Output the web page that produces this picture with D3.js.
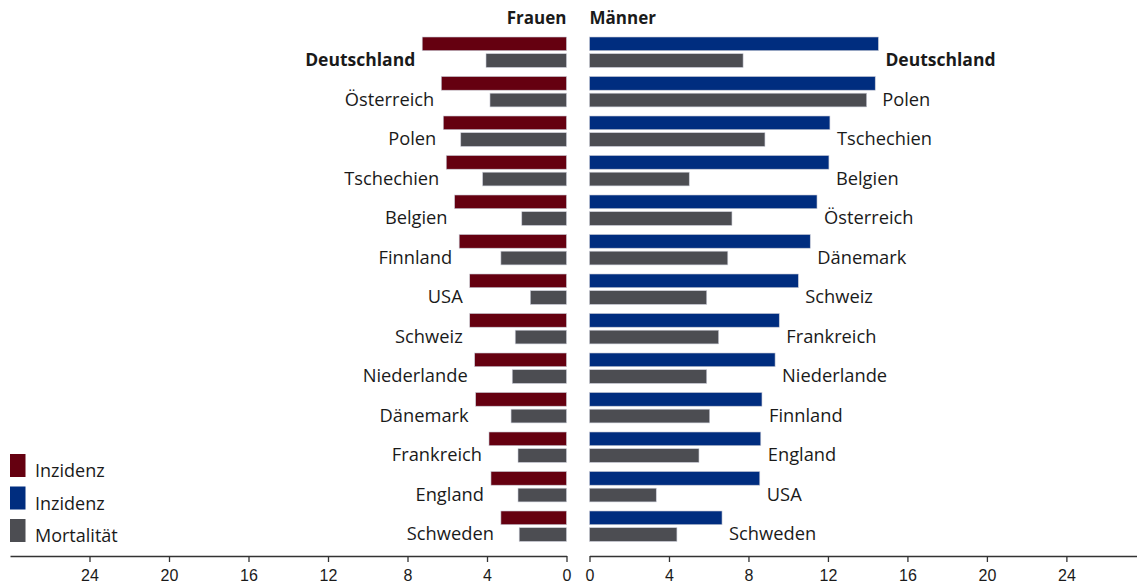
<!DOCTYPE html>
<html><head><meta charset="utf-8">
<script src="https://cdn.jsdelivr.net/npm/d3@7"></script>
<style>
body{margin:0;background:#fff;}
svg{display:block;}
text{font-family:"Open Sans","Noto Sans",sans-serif;fill:#1a1a1a;}
.axis text{font-family:"Liberation Sans",sans-serif;font-size:16px;fill:#1a1a1a;}
.axis path,.axis line{stroke:#333;stroke-width:1.3;}
</style></head>
<body>
<svg id="c" width="1137" height="585"></svg>
<script>
// Frauen (women), sorted by incidence
const womenCountries = ["Deutschland","Österreich","Polen","Tschechien","Belgien","Finnland","USA","Schweiz","Niederlande","Dänemark","Frankreich","England","Schweden"];
const womenIncidence = [7.26,6.30,6.20,6.05,5.63,5.40,4.87,4.87,4.62,4.57,3.90,3.80,3.30];
const womenMortality = [4.05,3.85,5.32,4.22,2.25,3.30,1.82,2.58,2.73,2.79,2.44,2.44,2.38];
// Männer (men), sorted by incidence
const menCountries = ["Deutschland","Polen","Tschechien","Belgien","Österreich","Dänemark","Schweiz","Frankreich","Niederlande","Finnland","England","USA","Schweden"];
const menIncidence = [14.54,14.38,12.10,12.05,11.45,11.11,10.51,9.55,9.34,8.68,8.62,8.57,6.67];
const menMortality = [7.73,13.95,8.83,5.02,7.17,6.96,5.90,6.50,5.90,6.05,5.51,3.36,4.40];
const tickValues = [0,4,8,12,16,20,24];
const legendLabels = ["Inzidenz","Inzidenz","Mortalität"];
const titles = ["Frauen","Männer"];

const colWomen = "#650010", colMen = "#002d7f", colMort = "#4c4d52";
const svg = d3.select("#c");

const xL = d3.scaleLinear().domain([0,28]).range([566.5, 10]);
const xR = d3.scaleLinear().domain([0,28]).range([589.5, 589.5+28*19.87]);
const y = d3.scaleBand().domain(d3.range(13)).range([37, 37+13*39.5]).paddingInner(0).paddingOuter(0);
const barH = 13.7, gap = 3;

function side(countries, inc, mort, x, left, incColor){
  const g = svg.append("g");
  const data = countries.map((c,i)=>({c,i,inc:inc[i],mort:mort[i]}));
  const rows = g.selectAll("g.row").data(data).join("g").attr("class","row");
  rows.append("rect")
    .attr("x", d=> left ? x(d.inc) : x(0))
    .attr("y", d=> y(d.i))
    .attr("width", d=> Math.abs(x(d.inc)-x(0)))
    .attr("height", barH)
    .attr("fill", incColor).attr("stroke","#c9cbd6").attr("stroke-width",0.6);
  rows.append("rect")
    .attr("x", d=> left ? x(d.mort) : x(0))
    .attr("y", d=> y(d.i)+barH+gap)
    .attr("width", d=> Math.abs(x(d.mort)-x(0)))
    .attr("height", barH)
    .attr("fill", colMort).attr("stroke","#c9cbd6").attr("stroke-width",0.6);
  rows.append("text")
    .attr("x", d=> left ? x(d.inc)-7 : x(d.inc)+7)
    .attr("y", d=> y(d.i)+2*barH+gap-1)
    .attr("text-anchor", left ? "end" : "start")
    .style("font-size", d=> d.c==="Deutschland" ? "17.5px" : "18.3px")
    .style("font-weight", d=> d.c==="Deutschland" ? "700" : "400")
    .text(d=>d.c);
}
side(womenCountries, womenIncidence, womenMortality, xL, true, colWomen);
side(menCountries, menIncidence, menMortality, xR, false, colMen);

svg.append("text").attr("x", 566.5).attr("y", 24).attr("text-anchor","end")
  .style("font-size","17px").style("font-weight","700").text(titles[0]);
svg.append("text").attr("x", 589.5).attr("y", 24).attr("text-anchor","start")
  .style("font-size","17px").style("font-weight","700").text(titles[1]);

const axY = 556;
svg.append("g").attr("class","axis").attr("transform",`translate(0,${axY})`)
  .call(d3.axisBottom(xL).tickValues(tickValues).tickSize(6).tickSizeOuter(0).tickPadding(8).tickFormat(d3.format("d")));
svg.append("g").attr("class","axis").attr("transform",`translate(0,${axY})`)
  .call(d3.axisBottom(xR).tickValues(tickValues).tickSize(6).tickSizeOuter(0).tickPadding(8).tickFormat(d3.format("d")));

const legColors = [colWomen, colMen, colMort];
const lg = svg.append("g");
legendLabels.forEach((l,i)=>{
  const ly = 454 + i*32.5;
  lg.append("rect").attr("x",10).attr("y",ly).attr("width",15.5).attr("height",23).attr("fill",legColors[i]);
  lg.append("text").attr("x",35).attr("y",ly+23).style("font-size","18px").text(l);
});
</script>
</body></html>
